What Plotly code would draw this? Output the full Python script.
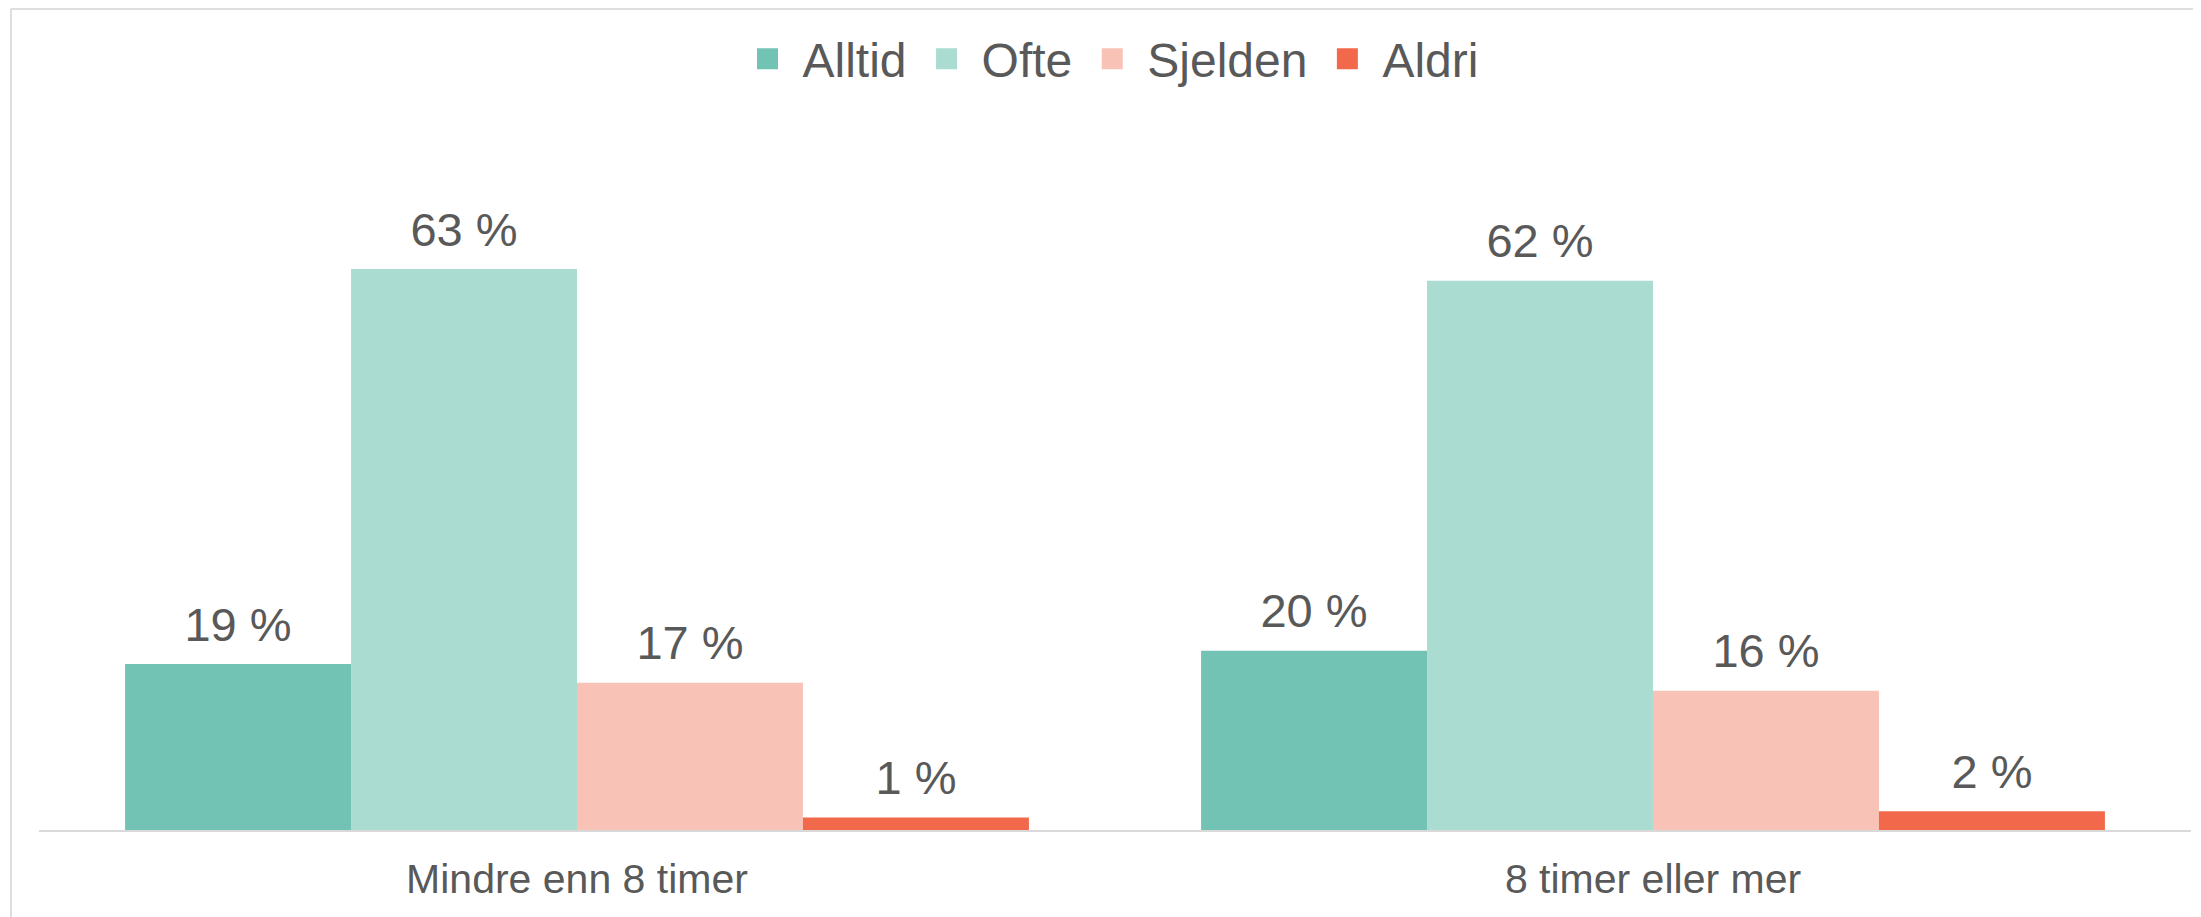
import plotly.graph_objects as go

categories = ["Mindre enn 8 timer", "8 timer eller mer"]
series_names = ["Alltid", "Ofte", "Sjelden", "Aldri"]
alltid = [18.7, 20.2]
ofte = [63.2, 61.9]
sjelden = [16.6, 15.7]
aldri = [1.4, 2.1]
colors = ["#72C3B4", "#AADCD2", "#F9C2B7", "#F2684B"]

W, H = 2201, 917
OFF = 8  # default page body margin
ML, MR, MT, MB = 39 - OFF, 10 + OFF, 120 - OFF, 87 + OFF
YMAX = 80
GAP = 0.16
TXT = "#595959"
FONT = "Liberation Sans, Arial, sans-serif"

all_vals = [alltid, ofte, sjelden, aldri]

fig = go.Figure()
for name, vals, col in zip(series_names, all_vals, colors):
    fig.add_trace(go.Bar(
        name=name, x=categories, y=vals, legendgroup=name,
        marker=dict(color=col, line=dict(width=0)),
        showlegend=False, hoverinfo="skip",
    ))
for name, vals in zip(series_names, all_vals):
    fig.add_trace(go.Scatter(
        name=name, x=categories, y=vals, mode="markers+text",
        text=[f"{int(v + 0.5)} %" for v in vals],
        textposition="top center",
        textfont=dict(size=47, color=TXT, family=FONT),
        marker=dict(size=17, opacity=0),
        cliponaxis=False, showlegend=False, hoverinfo="skip",
    ))
# legend entries (larger square swatches), on a hidden overlay axis pair
for name, col in zip(series_names, colors):
    fig.add_trace(go.Scatter(
        name=name, x=[None], y=[None], mode="markers", legendgroup=name,
        marker=dict(symbol="square", size=16, color=col,
                    line=dict(color=col, width=5)),
        xaxis="x2", yaxis="y2", showlegend=True, hoverinfo="skip",
    ))

plot_h = H - MT - MB
plot_w = W - ML - MR
top_y = (plot_h + MT - 1) / plot_h
left_x = (11 - OFF - ML) / plot_w
fig.update_layout(
    width=W, height=H,
    margin=dict(l=ML, r=MR, t=MT, b=MB),
    paper_bgcolor="white", plot_bgcolor="white",
    barmode="group", bargap=GAP, bargroupgap=0,
    scattermode="group", scattergap=GAP,
    font=dict(family=FONT, color=TXT),
    showlegend=True,
    legend=dict(
        orientation="h", x=0.5 - 7 / plot_w, xanchor="center",
        y=(plot_h + MT - 59 + OFF) / plot_h, yanchor="middle",
        font=dict(size=48, color=TXT, family=FONT),
        traceorder="normal", itemclick=False, itemwidth=60,
    ),
    xaxis=dict(
        showgrid=False, zeroline=False, showline=True,
        linecolor="#D9D9D9", linewidth=2,
        ticks="", ticklabelstandoff=12,
        tickfont=dict(size=41, color=TXT, family=FONT),
    ),
    yaxis=dict(range=[0, YMAX], visible=False, showgrid=False),
    xaxis2=dict(overlaying="x", visible=False, range=[0, 1]),
    yaxis2=dict(overlaying="y", visible=False, range=[0, 1]),
    shapes=[
        dict(type="line", xref="paper", yref="paper",
             x0=left_x, x1=1.2, y0=top_y, y1=top_y,
             line=dict(color="#DEDEDE", width=2)),
        dict(type="line", xref="paper", yref="paper",
             x0=left_x, x1=left_x, y0=-0.3, y1=top_y,
             line=dict(color="#DEDEDE", width=2)),
    ],
)

fig.write_html("out.html")
